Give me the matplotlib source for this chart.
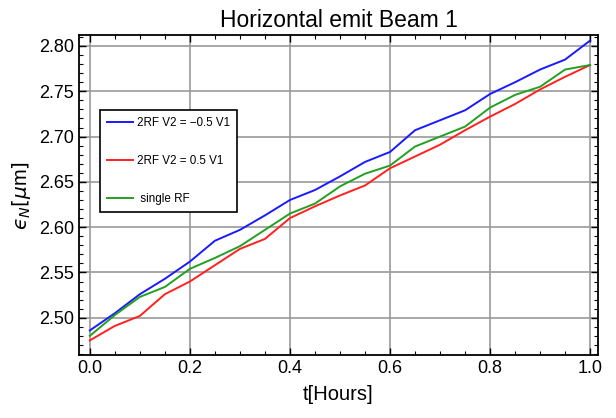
import numpy as np
import matplotlib.pyplot as plt
from matplotlib.ticker import MultipleLocator

plt.rcParams['font.family'] = ['Liberation Sans', 'DejaVu Sans']
plt.rcParams['mathtext.fontset'] = 'dejavusans'

t = [0.0, 0.05, 0.1, 0.15, 0.2, 0.25, 0.3, 0.35, 0.4, 0.45, 0.5,
     0.55, 0.6, 0.65, 0.7, 0.75, 0.8, 0.85, 0.9, 0.95, 1.0]
neg05 = [2.486, 2.505, 2.526, 2.543, 2.562, 2.585, 2.597, 2.613, 2.630, 2.641, 2.656,
         2.672, 2.683, 2.707, 2.718, 2.729, 2.747, 2.760, 2.774, 2.785, 2.806]
pos05 = [2.475, 2.491, 2.502, 2.526, 2.540, 2.558, 2.576, 2.587, 2.610, 2.623, 2.635,
         2.646, 2.665, 2.678, 2.691, 2.707, 2.722, 2.736, 2.752, 2.766, 2.779]
single = [2.480, 2.503, 2.523, 2.534, 2.554, 2.566, 2.579, 2.597, 2.615, 2.626, 2.645,
          2.659, 2.668, 2.689, 2.700, 2.711, 2.732, 2.746, 2.755, 2.774, 2.779]
labels = ['2RF V2 = \u22120.5 V1', '2RF V2 = 0.5 V1', ' single RF']

fig = plt.figure(figsize=(6.16, 4.18), dpi=100)
ax = fig.add_axes([0.128, 0.151, 0.843, 0.765])

ax.plot(t, neg05, color='#1a1aff', lw=1.4, label=labels[0])
ax.plot(t, pos05, color='#ff2020', lw=1.4, label=labels[1])
ax.plot(t, single, color='#22a022', lw=1.4, label=labels[2])

ax.set_xlim(-0.022, 1.016)
ax.set_ylim(2.459, 2.812)
ax.xaxis.set_major_locator(MultipleLocator(0.2))
ax.xaxis.set_minor_locator(MultipleLocator(0.05))
ax.yaxis.set_major_locator(MultipleLocator(0.05))
ax.yaxis.set_minor_locator(MultipleLocator(0.01))
ax.xaxis.set_major_formatter(plt.FormatStrFormatter('%.1f'))
ax.yaxis.set_major_formatter(plt.FormatStrFormatter('%.2f'))
ax.tick_params(which='both', direction='in', top=True, right=True, labelsize=13)
ax.tick_params(which='major', length=5, width=1)
ax.tick_params(which='minor', length=3, width=0.8)
ax.grid(True, which='major', color='#999999', lw=1.2)
for s in ax.spines.values():
    s.set_linewidth(1.3)

ax.set_title('Horizontal emit Beam 1', fontsize=16.5, pad=6)
ax.set_xlabel('t[Hours]', fontsize=14.5, labelpad=6)
ax.set_ylabel('$\u03f5_N[\\mu$m$]$', fontsize=14.5, labelpad=4)

leg = ax.legend(loc='upper left', bbox_to_anchor=(0.040, 0.766), fontsize=8.4,
                frameon=True, fancybox=False, edgecolor='black', framealpha=1,
                labelspacing=2.25, handlelength=2.3, handletextpad=0.3,
                borderpad=0.6, borderaxespad=0)
leg.get_frame().set_linewidth(1.2)

fig.savefig('out.png', dpi=100)
